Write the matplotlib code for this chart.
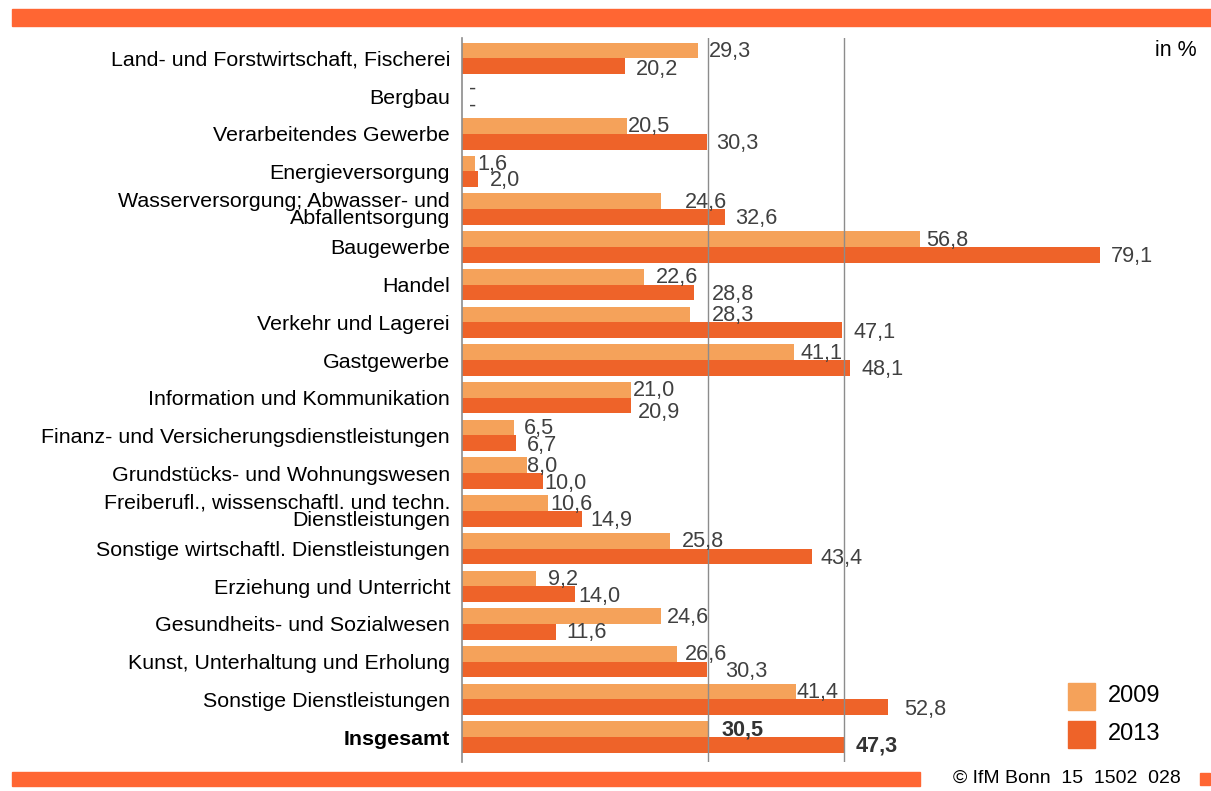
import matplotlib
matplotlib.use("Agg")
import matplotlib.pyplot as plt
from matplotlib.patches import Rectangle

plt.rcParams['font.family'] = ['Liberation Sans', 'DejaVu Sans']

categories = [
    "Land- und Forstwirtschaft, Fischerei",
    "Bergbau",
    "Verarbeitendes Gewerbe",
    "Energieversorgung",
    "Wasserversorgung; Abwasser- und\nAbfallentsorgung",
    "Baugewerbe",
    "Handel",
    "Verkehr und Lagerei",
    "Gastgewerbe",
    "Information und Kommunikation",
    "Finanz- und Versicherungsdienstleistungen",
    "Grundstücks- und Wohnungswesen",
    "Freiberufl., wissenschaftl. und techn.\nDienstleistungen",
    "Sonstige wirtschaftl. Dienstleistungen",
    "Erziehung und Unterricht",
    "Gesundheits- und Sozialwesen",
    "Kunst, Unterhaltung und Erholung",
    "Sonstige Dienstleistungen",
    "Insgesamt",
]
values_2009 = [29.3, None, 20.5, 1.6, 24.6, 56.8, 22.6, 28.3, 41.1, 21.0, 6.5, 8.0, 10.6, 25.8, 9.2, 24.6, 26.6, 41.4, 30.5]
values_2013 = [20.2, None, 30.3, 2.0, 32.6, 79.1, 28.8, 47.1, 48.1, 20.9, 6.7, 10.0, 14.9, 43.4, 14.0, 11.6, 30.3, 52.8, 47.3]
series_labels = ["2009", "2013"]
unit_label = "in %"
footer = "© IfM Bonn  15  1502  028"

# layout: horizontal gap (px) between bar end and its value label, as in the original
label_gap_2009 = [10, 7, 0, 2, 24, 6, 11, 21, 7, 1, 9, 0, 3, 12, 12, 6, 8, 0, 13]
label_gap_2013 = [11, 7, 10, 12, 10, 11, 17, 11, 11, 7, 11, 2, 8, 8, 3, 11, 19, 16, 12]
label_drop_2013 = [3, 2, 1.5, 1, 1, 2, 2, 2, 2, 7, 2, 2, 2, 2, 2, 1, 2, 2, 1]

C09 = "#F5A25A"
C13 = "#EE6329"
BAND = "#FF6633"

W, H = 1211, 791
fig = plt.figure(figsize=(W / 100, H / 100), dpi=100)
PT = 72 / 100  # points per pixel


def fx(px):
    return px / W


def fy(py):
    return 1 - py / H


# bands
fig.patches.append(Rectangle((fx(12), fy(26)), 1 - fx(12), (26 - 9) / H, transform=fig.transFigure, color=BAND, zorder=0))
fig.patches.append(Rectangle((fx(12), fy(786)), fx(920) - fx(12), 14 / H, transform=fig.transFigure, color=BAND, zorder=0))
fig.patches.append(Rectangle((fx(1200), fy(785)), fx(1210) - fx(1200), 12 / H, transform=fig.transFigure, color=BAND, zorder=0))
fig.text(fx(1181), fy(778), footer, ha="right", va="center", fontsize=14, color="#000000")

ax_left, ax_right, ax_top, ax_bot = 462, 1200, 38, 762
ax = fig.add_axes([fx(ax_left), fy(ax_bot), (ax_right - ax_left) / W, (ax_bot - ax_top) / H])
pxu = 8.07
ax.set_xlim(0, (ax_right - ax_left) / pxu)
n = len(categories)
ax.set_ylim(n - 1 + 0.66, -0.54)

bh = 0.417
ys = list(range(n))
v09 = [v if v is not None else 0 for v in values_2009]
v13 = [v if v is not None else 0 for v in values_2013]
ax.barh([y - bh / 2 for y in ys], v09, height=bh, color=C09, zorder=2)
ax.barh([y + bh / 2 for y in ys], v13, height=bh, color=C13, zorder=2)

# reference lines at totals
ax.axvline(values_2009[-1], color="#8C8C8C", lw=1.0, zorder=3)
ax.axvline(values_2013[-1], color="#8C8C8C", lw=1.0, zorder=3)


def fmt(v):
    return "-" if v is None else f"{v:.1f}".replace(".", ",")


for i in ys:
    bold = (i == n - 1)
    for vals, gaps, drops, dy in ((values_2009, label_gap_2009, [1] * n, -bh / 2),
                                  (values_2013, label_gap_2013, label_drop_2013, bh / 2)):
        v = vals[i]
        xv = 0 if v is None else v
        ax.annotate(fmt(v), (xv, i + dy), xytext=(gaps[i] * PT, -drops[i] * PT),
                    textcoords="offset points", ha="left", va="center",
                    fontsize=15.6, color="#404040" if not bold else "#333333",
                    fontweight="bold" if bold else "normal", zorder=4)

ax.set_yticks(ys)
ax.set_yticklabels(categories, fontsize=15.4, linespacing=0.85)
for lbl in ax.get_yticklabels():
    if lbl.get_text() == "Insgesamt":
        lbl.set_fontweight("bold")
ax.tick_params(axis="y", length=0, pad=8.6)
ax.set_xticks([])
for s in ("top", "right", "bottom"):
    ax.spines[s].set_visible(False)
ax.spines["left"].set_color("#8C8C8C")
ax.spines["left"].set_linewidth(1.2)
ax.patch.set_alpha(0)

fig.text(fx(1197), fy(50), unit_label, ha="right", va="center", fontsize=15.5)

# legend
for (y0, col, lab) in ((683, C09, series_labels[0]), (721, C13, series_labels[1])):
    fig.patches.append(Rectangle((fx(1068), fy(y0 + 27)), 27 / W, 27 / H, transform=fig.transFigure, color=col))
    fig.text(fx(1108), fy(y0 + 13.5), lab, ha="left", va="center", fontsize=17)

fig.savefig("out.png", dpi=100)
